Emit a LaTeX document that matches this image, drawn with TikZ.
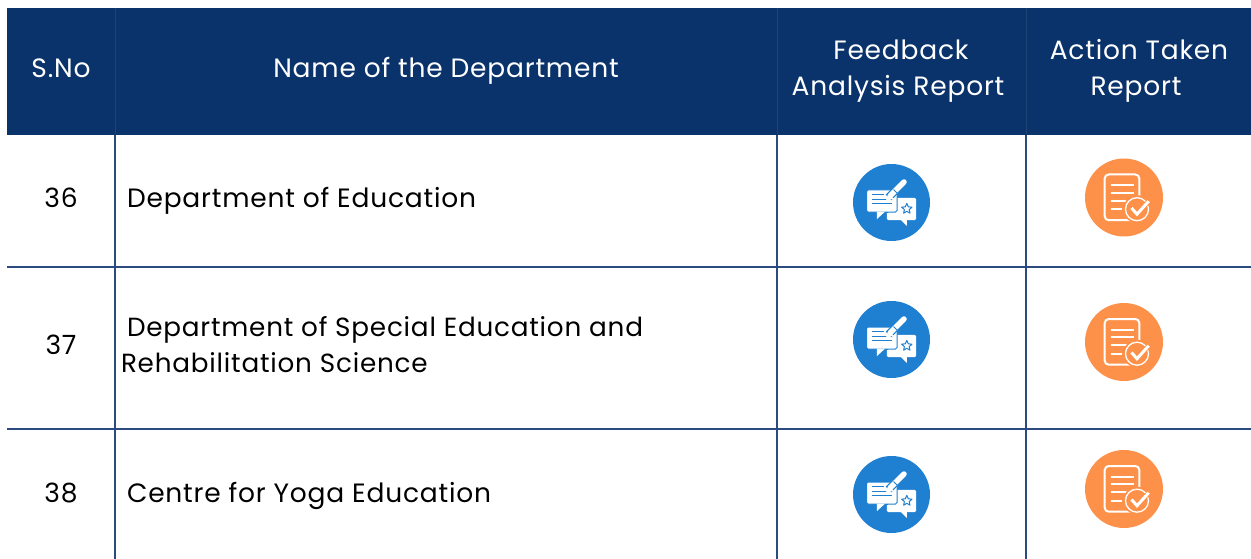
\documentclass[tikz,border=0pt]{standalone}
\usepackage{fontspec}
\setmainfont{Poppins}[LetterSpace=3]
\definecolor{navy}{HTML}{0A336B}
\definecolor{gridc}{HTML}{2A4A80}
\definecolor{iconblue}{HTML}{1F80D2}
\definecolor{iconorange}{HTML}{FE914A}
\tikzset{
  every node/.style={inner sep=0pt,outer sep=0pt},
  hdr/.style={text=white,font=\fontsize{26.5}{36}\selectfont,align=center},
  cell/.style={text=black,font=\fontsize{26.5}{36}\selectfont,align=left,anchor=west},
  gridline/.style={draw=gridc,line width=1.2pt},
  fb/.pic={
    \fill[iconblue] (0,0) circle (38.5);
    % right bubble
    \fill[white,rounded corners=1.5] (-4.7,-4.7) rectangle (24.7,17.7);
    \fill[white] (8.7,17) -- (15.3,23.3) -- (15.3,17) -- cycle;
    % left bubble, in front with a blue outline
    \draw[iconblue,line width=1pt,fill=white,rounded corners=1.5] (-25,-12.5) rectangle (5.5,9.5);
    \fill[white] (-14.7,9) -- (-14.7,16.7) -- (-6.3,9) -- cycle;
    \draw[iconblue,line width=1pt] (-6.3,9.6) -- (-4,9.6);
    \draw[iconblue,line width=1pt] (-19.5,-8) -- (-8,-8) (-19.5,-3.3) -- (-4,-3.3) (-19.5,1.3) -- (0,1.3);
    % pen
    \draw[iconblue,line width=8pt] (-3,-5) -- (12,-20);
    \draw[white,line width=5.5pt,line cap=round] (-1,-7) -- (12.5,-20.5);
    \fill[white] (-5.5,-2) -- (-3.4,-8.6) -- (2.4,-3.8) -- cycle;
    \draw[iconblue,line width=1pt] (2,-13) -- (6,-9);
    % star
    \draw[iconblue,line width=1pt,line join=round] (15.3,0.9) -- (16.8,4.3) -- (20.5,4.7) -- (17.7,7.1) -- (18.5,10.7) -- (15.3,8.8) -- (12.1,10.7) -- (12.9,7.1) -- (10.1,4.7) -- (13.8,4.3) -- cycle;
  },
  atr/.pic={
    \fill[iconorange] (0,0) circle (39);
    \draw[white,line width=2pt,rounded corners=4] (-19.3,-23) rectangle (15.3,22.7);
    \draw[white,line width=2pt] (-13,-12.3) -- (9.7,-12.3) (-13,-4.7) -- (9.7,-4.7) (-13,3.3) -- (4.7,3.3) (-13,11.7) -- (-2,11.7);
    \fill[iconorange] (13,11.7) circle (14);
    \draw[white,line width=1.3pt] (13,11.7) circle (11.5);
    \draw[iconorange,line width=5pt] (22,7) -- (26,3);
    \draw[white,line width=3pt,line join=miter] (7.5,10.5) -- (13,16.7) -- (24.7,3.7);
  }
}
\begin{document}
\begin{tikzpicture}[x=1pt,y=-1pt]
\useasboundingbox (0,0) rectangle (1251,559);
\fill[white] (0,0) rectangle (1251,559);
\fill[navy] (7,8) rectangle (1251,135);
% grid
\draw[gridline] (115,135) -- (115,559);
\draw[gridline] (777,135) -- (777,559);
\draw[gridline] (1026,135) -- (1026,559);
\draw[gridline] (7,267) -- (1251,267);
\draw[gridline] (7,429) -- (1251,429);
\draw[draw=navy!92!white,line width=0.6pt] (115,8) -- (115,134) (777,8) -- (777,134) (1026,8) -- (1026,134);
% header
\node[hdr] (h1) at (61,68.5) {S.No};
\node[hdr] (h2) at (446,71) {Name of the Department};
\node[hdr] (h3) at (898,71) {\hspace*{6pt}Feedback\\Analysis Report};
\node[hdr] (h4) at (1139,71) {Action Taken\\Report\hspace*{6pt}};
% rows
\node[hdr,text=black] (n36) at (61,198) {36};
\node[hdr,text=black] (n37) at (61,345) {37};
\node[hdr,text=black] (n38) at (61,493) {38};
\node[cell] (d36) at (127,201) {Department of Education};
\node[cell,font=\fontsize{26.25}{36}\selectfont] (d37) at (121,345) {\hspace*{6pt}Department of Special Education and\\Rehabilitation Science};
\node[cell] (d38) at (127,496) {Centre for Yoga Education};
% icons
\pic at (891.5,202.5) {fb};
\pic at (891.5,339.5) {fb};
\pic at (891.5,494.5) {fb};
\pic at (1124,197.5) {atr};
\pic at (1124,342) {atr};
\pic at (1124,489) {atr};
\end{tikzpicture}
\end{document}
